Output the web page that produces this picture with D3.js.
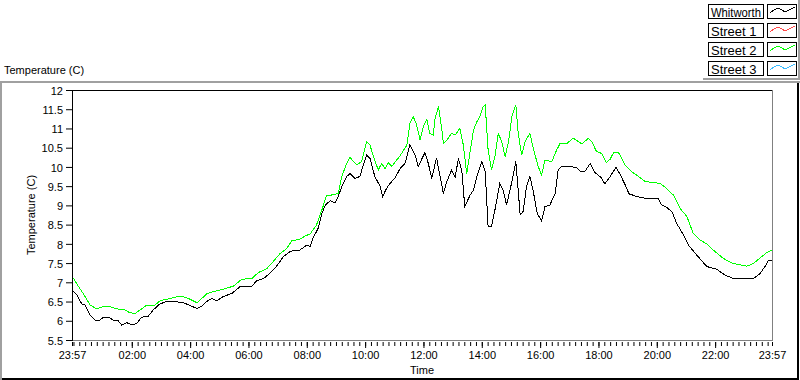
<!DOCTYPE html>
<html><head><meta charset="utf-8">
<script src="https://cdn.jsdelivr.net/npm/d3@7"></script>
<style>
body{margin:0;background:#fff;overflow:hidden;}
svg text{font-family:"Liberation Sans",Arial,sans-serif;fill:#000;}
</style></head><body>
<svg id="c" width="800" height="380"></svg>
<script>
// ---------- data ----------
const seriesNames = ["Whitworth", "Street 1", "Street 2", "Street 3"];
const seriesColors = ["#000000", "#ff4848", "#00ff00", "#3cbcff"];
const yTicks = [5.5, 6, 6.5, 7, 7.5, 8, 8.5, 9, 9.5, 10, 10.5, 11, 11.5, 12];
const xTickLabels = ["23:57","02:00","04:00","06:00","08:00","10:00","12:00","14:00","16:00","18:00","20:00","22:00","23:57"];
const xAxisTitle = "Time";
const yAxisTitle = "Temperature (C)";

const whitworthTime = ["23:57","00:07","00:17","00:24","00:34","00:44","00:55","01:01","01:12","01:22","01:32","01:39","01:50","02:00","02:10","02:20","02:34","02:44","02:58","03:12","03:29","03:46","04:03","04:14","04:24","04:34","04:44","04:55","05:08","05:26","05:43","06:07","06:17","06:31","06:44","06:58","07:12","07:26","07:36","07:46","08:00","08:07","08:13","08:24","08:31","08:38","08:48","08:58","09:05","09:12","09:22","09:29","09:39","09:49","10:03","10:10","10:20","10:31","10:36","10:44","10:51","11:01","11:12","11:22","11:32","11:43","11:49","12:03","12:10","12:17","12:27","12:31","12:41","12:48","12:58","13:05","13:12","13:19","13:25","13:36","13:43","13:50","14:00","14:07","14:13","14:20","14:27","14:37","14:44","14:51","15:02","15:10","15:19","15:25","15:32","15:39","15:46","15:54","16:03","16:10","16:20","16:31","16:37","16:44","16:58","17:15","17:22","17:32","17:43","17:53","18:05","18:13","18:24","18:36","18:44","18:55","19:03","19:19","19:39","20:03","20:10","20:20","20:31","20:41","20:55","21:05","21:22","21:43","22:03","22:20","22:37","23:19","23:32","23:43","23:49","23:57"];
const whitworthTemp = [6.80,6.67,6.44,6.41,6.15,6.02,6.02,6.09,6.09,6.02,6.00,5.89,5.95,5.89,5.93,6.09,6.12,6.28,6.44,6.50,6.50,6.47,6.38,6.32,6.38,6.50,6.58,6.52,6.63,6.71,6.89,6.90,7.04,7.10,7.23,7.42,7.67,7.80,7.84,7.84,7.97,7.93,8.15,8.42,8.79,9.01,9.12,9.07,9.24,9.49,9.75,9.83,9.70,9.75,10.31,10.22,9.75,9.49,9.23,9.44,9.57,9.70,9.96,10.09,10.57,10.31,10.01,10.37,10.09,9.70,10.24,9.96,9.31,9.62,9.92,9.73,10.22,9.88,8.97,9.27,9.40,9.75,10.14,9.88,8.45,8.45,8.88,9.57,9.40,9.01,9.62,10.14,8.75,8.84,9.49,9.75,9.36,8.79,8.60,8.97,9.01,9.31,9.92,10.02,10.01,9.99,9.89,9.88,10.09,9.85,9.73,9.56,9.75,9.99,9.82,9.53,9.30,9.23,9.18,9.18,9.01,8.95,8.84,8.53,8.23,7.97,7.71,7.41,7.34,7.19,7.10,7.10,7.22,7.42,7.56,7.58];

const street1Time = [];
const street1Temp = [];

const street2Time = ["23:57","00:13","00:24","00:34","00:48","01:01","01:15","01:29","01:46","01:56","02:07","02:17","02:31","02:48","02:58","03:19","03:39","03:53","04:03","04:14","04:24","04:34","04:48","05:08","05:29","05:46","06:07","06:20","06:38","06:51","07:05","07:19","07:29","07:46","07:56","08:07","08:20","08:31","08:41","08:51","09:05","09:12","09:22","09:29","09:36","09:43","09:53","10:03","10:10","10:17","10:27","10:34","10:41","10:48","10:55","11:05","11:12","11:26","11:32","11:39","11:46","11:53","12:00","12:07","12:13","12:20","12:24","12:31","12:38","12:41","12:48","12:58","13:05","13:15","13:22","13:29","13:36","13:43","13:50","13:56","14:03","14:07","14:13","14:20","14:27","14:34","14:41","14:48","14:55","15:02","15:10","15:15","15:22","15:29","15:39","15:46","15:56","16:03","16:10","16:24","16:34","16:41","16:55","17:08","17:26","17:39","17:46","17:56","18:07","18:16","18:24","18:31","18:41","18:55","19:08","19:25","19:36","20:07","20:20","20:34","20:48","21:02","21:15","21:29","21:43","21:56","22:17","22:37","23:05","23:19","23:36","23:46","23:57"];
const street2Temp = [7.16,6.84,6.63,6.41,6.31,6.37,6.37,6.31,6.28,6.21,6.19,6.28,6.41,6.41,6.52,6.58,6.64,6.60,6.54,6.47,6.58,6.70,6.76,6.82,6.90,7.08,7.10,7.25,7.36,7.54,7.75,7.88,8.08,8.12,8.20,8.26,8.49,8.88,9.27,9.27,9.31,9.75,10.09,10.25,10.14,10.05,10.14,10.66,10.57,10.27,9.92,10.09,9.96,10.11,10.01,10.18,10.29,10.57,11.13,11.31,11.09,10.70,11.05,11.24,10.87,10.83,11.26,11.57,10.96,10.61,10.70,10.87,10.83,11.00,10.57,9.83,10.40,10.96,11.18,11.31,11.57,11.61,10.44,9.92,10.27,10.87,10.66,10.27,10.66,11.31,11.61,10.87,10.31,10.66,10.87,10.48,10.01,9.79,10.18,10.14,10.44,10.61,10.61,10.75,10.60,10.74,10.66,10.40,10.35,10.11,10.20,10.37,10.38,10.05,9.88,9.73,9.62,9.57,9.44,9.27,8.92,8.71,8.27,8.10,8.00,7.84,7.62,7.49,7.42,7.49,7.67,7.77,7.84];

const street3Time = [];
const street3Temp = [];

// ---------- helpers ----------
const start = new Date(2000, 0, 1, 23, 57);
const end = new Date(2000, 0, 2, 23, 57);
function toDates(arr) {
  return arr.map((s, i) => {
    const [h, m] = s.split(":").map(Number);
    let off = (h * 60 + m + 3) % 1440;
    if (off === 0 && i > 0) off = 1440;
    return new Date(start.getTime() + off * 60000);
  });
}
const series = [
  {name: seriesNames[0], color: seriesColors[0], t: toDates(whitworthTime), v: whitworthTemp},
  {name: seriesNames[1], color: seriesColors[1], t: toDates(street1Time), v: street1Temp},
  {name: seriesNames[2], color: seriesColors[2], t: toDates(street2Time), v: street2Temp},
  {name: seriesNames[3], color: seriesColors[3], t: toDates(street3Time), v: street3Temp}
];

// ---------- layout ----------
const svg = d3.select("#c");
const L = 72, R = 772, T = 90, B = 340;
const x = d3.scaleTime().domain([start, end]).range([L, R]);
const y = d3.scaleLinear().domain([yTicks[0], yTicks[yTicks.length - 1]]).range([B, T]);

// outer frame
svg.append("rect").attr("x", 0).attr("y", 81).attr("width", 800).attr("height", 2).attr("fill", "#a0a0a0");
svg.append("rect").attr("x", 0).attr("y", 81).attr("width", 2).attr("height", 299).attr("fill", "#a0a0a0");
svg.append("rect").attr("x", 797).attr("y", 83).attr("width", 2).attr("height", 297).attr("fill", "#000");
svg.append("rect").attr("x", 2).attr("y", 378).attr("width", 797).attr("height", 2).attr("fill", "#000");

// title
svg.append("text").attr("x", 4).attr("y", 74).attr("font-size", 11).text(yAxisTitle);

// plot border
svg.append("line").attr("x1", L).attr("x2", R + 1).attr("y1", T + 0.5).attr("y2", T + 0.5).attr("stroke", "#000");
svg.append("line").attr("x1", R + 0.5).attr("x2", R + 0.5).attr("y1", T).attr("y2", B + 1).attr("stroke", "#808080");
svg.append("line").attr("x1", L).attr("x2", R + 1).attr("y1", B + 0.5).attr("y2", B + 0.5).attr("stroke", "#808080");
svg.append("line").attr("x1", L + 0.5).attr("x2", L + 0.5).attr("y1", T).attr("y2", B + 1).attr("stroke", "#000");

// clip
svg.append("clipPath").attr("id", "clip").append("rect").attr("x", L + 1).attr("y", T + 1).attr("width", R - L - 1).attr("height", B - T - 1);

// y axis
const gy = svg.append("g").attr("transform", `translate(${L},0)`)
  .call(d3.axisLeft(y).tickValues(yTicks).tickSize(6).tickPadding(3).tickFormat(d => String(d)));
gy.select(".domain").remove();
gy.selectAll("line").attr("stroke", "#000");
gy.selectAll("text").attr("font-size", 11).attr("font-family", "Liberation Sans, Arial, sans-serif").attr("dy", "0.38em");

// x axis ticks
const minorTicks = [start].concat(d3.timeMinute.every(12).range(start, end)).concat([end]);
const majorTicks = d3.timeHour.every(2).range(start, end).filter(d => d.getHours() !== 0);
const fmt = d3.timeFormat("%H:%M");
const gxm = svg.append("g").attr("transform", `translate(0,${B + 2})`)
  .call(d3.axisBottom(x).tickValues(minorTicks).tickSize(4).tickFormat(""));
gxm.select(".domain").remove();
const gxM = svg.append("g").attr("transform", `translate(0,${B + 2})`)
  .call(d3.axisBottom(x).tickValues(majorTicks).tickSize(6).tickFormat(""));
gxM.select(".domain").remove();
const labelDates = [start].concat(majorTicks).concat([end]);
const gxl = svg.append("g").attr("transform", `translate(0,${B + 2})`)
  .call(d3.axisBottom(x).tickValues(labelDates).tickSize(0).tickPadding(9)
    .tickFormat((d, i) => xTickLabels[i]));
gxl.select(".domain").remove();
gxl.selectAll("text").attr("font-size", 11).attr("font-family", "Liberation Sans, Arial, sans-serif");
svg.selectAll("g.tick line").attr("stroke", "#000");

// axis titles
svg.append("text").attr("x", (L + R) / 2).attr("y", 374).attr("text-anchor", "middle").attr("font-size", 11).text(xAxisTitle);
svg.append("text").attr("transform", `translate(35,${(T + B) / 2}) rotate(-90)`).attr("text-anchor", "middle").attr("font-size", 11).text(yAxisTitle);

// lines
const line = d3.line().x(d => x(d[0])).y(d => y(d[1]));
const gl = svg.append("g").attr("clip-path", "url(#clip)");
series.forEach(s => {
  if (!s.t.length) return;
  gl.append("path").datum(s.t.map((t, i) => [t, s.v[i]]))
    .attr("d", line).attr("fill", "none").attr("stroke", s.color)
    .attr("stroke-width", 1).attr("shape-rendering", "crispEdges");
});

// legend
const lg = svg.append("g");
lg.append("rect").attr("x", 798).attr("y", 0).attr("width", 2).attr("height", 80).attr("fill", "#a0a0a0");
lg.append("rect").attr("x", 703).attr("y", 78).attr("width", 97).attr("height", 2).attr("fill", "#a0a0a0");
const iconShape = [[2, 9], [6, 6], [10, 4], [14, 6], [17, 8], [21, 6], [27, 3]];
series.forEach((s, i) => {
  const top = 4 + i * 19;
  lg.append("rect").attr("x", 708.5).attr("y", top + 0.5).attr("width", 55).attr("height", 14)
    .attr("fill", "#fff").attr("stroke", "#000");
  lg.append("rect").attr("x", 767.5).attr("y", top + 0.5).attr("width", 29).attr("height", 14)
    .attr("fill", "#fff").attr("stroke", "#000");
  const t = lg.append("text").attr("x", 711).attr("y", top + 12.5).attr("font-size", 13).text(s.name);
  const w = t.node().getComputedTextLength();
  if (w > 50) t.attr("textLength", 50).attr("lengthAdjust", "spacingAndGlyphs");
  lg.append("path").attr("d", d3.line()(iconShape.map(p => [768 + p[0], top + p[1]])))
    .attr("fill", "none").attr("stroke", s.color).attr("shape-rendering", "crispEdges");
});
</script>
</body></html>
